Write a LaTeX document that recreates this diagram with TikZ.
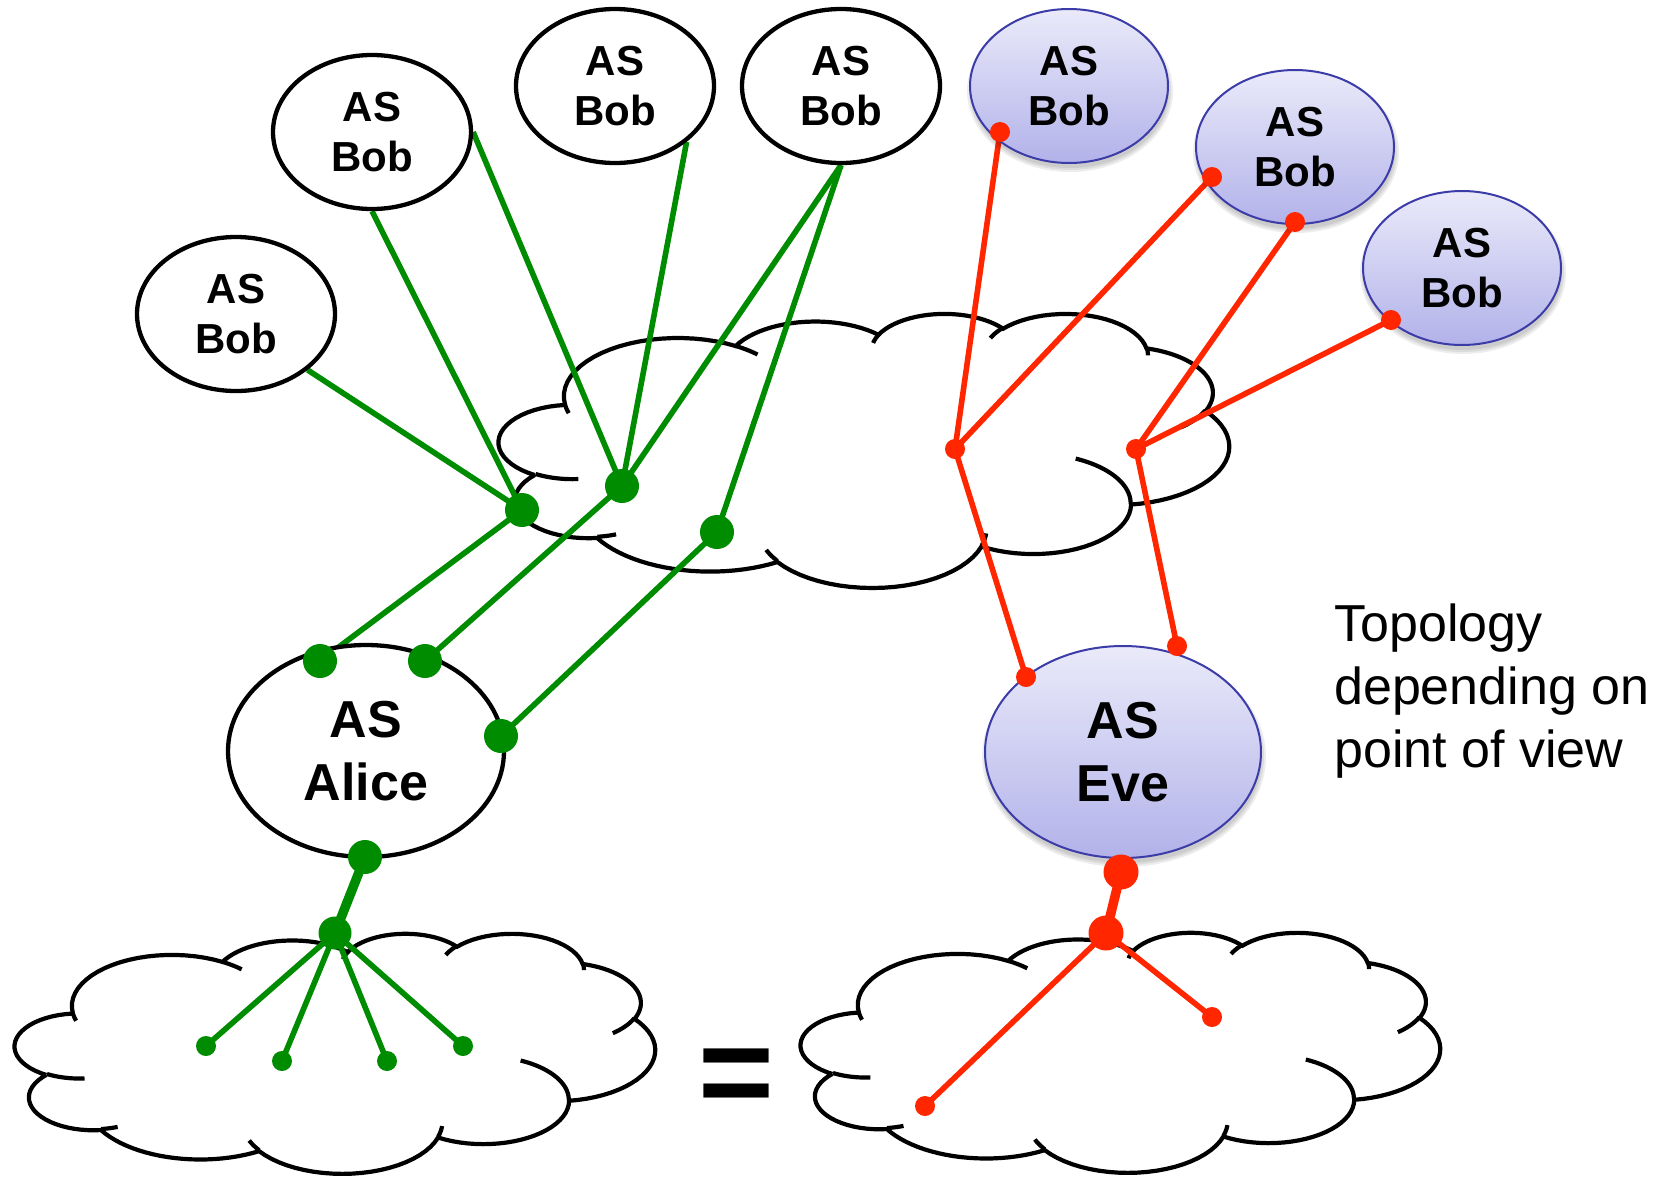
\documentclass[tikz,border=0pt]{standalone}
\usepackage{fontspec}
\setmainfont{Liberation Sans}
\usetikzlibrary{shapes.geometric}

\definecolor{netgreen}{RGB}{0,140,0}
\definecolor{netred}{RGB}{255,38,0}
\definecolor{evetop}{RGB}{234,234,250}
\definecolor{evebot}{RGB}{178,178,234}
\definecolor{eveline}{RGB}{60,60,168}

\pgfdeclarelayer{cloudlayer}
\pgfdeclarelayer{linklayer}
\pgfsetlayers{cloudlayer,linklayer,main}

% Cloud outline in a 432 x 432 frame, built from elliptic arcs whose
% start angle and sweep are polar (visual) angles, y pointing down.
\newcommand\cldreset{\gdef\cldP{}}
\newcommand\cldmove[2]{%
  \def\cpx{#1}\def\cpy{#2}%
  \xdef\cldP{\unexpanded\expandafter{\cldP} (#1,#2)}}
\newcommand\cldarc[4]{%
  \pgfmathsetmacro\cta{atan2(#1*sin(#3),#2*cos(#3))}%
  \pgfmathsetmacro\ctb{atan2(#1*sin(#3+#4),#2*cos(#3+#4))}%
  \pgfmathsetmacro\ctb{(\cta)+Mod((\ctb)-(\cta)+180,360)-180}%
  \pgfmathsetmacro\ccx{(\cpx)-#1*cos(\cta)}%
  \pgfmathsetmacro\ccy{(\cpy)-#2*sin(\cta)}%
  \xdef\cldP{\unexpanded\expandafter{\cldP} -- plot[domain=\cta:\ctb,samples=24,variable=\noexpand\t]({(\ccx)+#1*cos(\noexpand\t)},{(\ccy)+#2*sin(\noexpand\t)})}%
  \pgfmathsetmacro\cpx{(\ccx)+#1*cos(\ctb)}%
  \pgfmathsetmacro\cpy{(\ccy)+#2*sin(\ctb)}%
}

% outer outline
\cldreset
\cldmove{39.00}{143.70}
\cldarc{67.53}{91.90}{-190.48748}{123.78053}
\cldarc{53.33}{72.67}{-144.10238}{89.94523}
\cldarc{43.65}{59.45}{-145.80792}{99.72302}
\cldarc{48.57}{65.95}{-130.98607}{117.24173}
\cldarc{53.33}{72.73}{-78.70888}{109.02692}
\cldarc{67.75}{92.20}{-46.26725}{130.269}
\cldarc{57.85}{78.67}{0.62502}{114.03333}
\cldarc{67.52}{92.15}{22.4516}{115.17255}
\cldarc{77.20}{105.43}{66.24263}{75.71102}
\cldarc{43.60}{59.18}{-274.94208}{146.73557}
\cldarc{43.45}{59.45}{-246.8285}{152.51885}
\xdef\cldOuter{\unexpanded\expandafter{\cldP} -- cycle}

% inner strokes between the puffs
\cldreset
\cldmove{46.93}{261.77}\cldarc{43.45}{59.45}{86.742}{26.4295}
\cldmove{69.28}{348.99}\cldarc{43.60}{59.18}{73.61047}{11.44747}
\cldmove{164.78}{390.90}\cldarc{67.52}{92.15}{137.62415}{14.0811}
\cldmove{288.27}{347.51}\cldarc{67.52}{92.15}{6.45327}{15.99835}
\cldmove{341.29}{229.54}\cldarc{57.85}{78.67}{-70.29235}{70.91737}
\cldmove{417.98}{153.54}\cldarc{53.33}{72.73}{30.31803}{27.7515}
\cldmove{383.24}{54.26}\cldarc{48.57}{65.95}{-13.74433}{14.8589}
\cldmove{290.78}{39.52}\cldarc{48.57}{65.95}{-149.18145}{18.19537}
\cldmove{221.41}{47.20}\cldarc{43.65}{59.45}{-163.49427}{17.68635}
\cldmove{140.00}{51.92}\cldarc{67.53}{91.90}{-66.70695}{12.31935}
\cldmove{41.27}{157.89}\cldarc{67.53}{91.90}{157.65435}{11.85817}
\xdef\cldHooks{\unexpanded\expandafter{\cldP}}

\newcommand\drawcloud[4]{%
  \begin{scope}[shift={(#1,#2)},xscale=#3/432,yscale=#4/432]
    \draw[cloudline,fill=white] \cldOuter;
    \draw[cloudline] \cldHooks;
  \end{scope}}

\begin{document}
\begin{tikzpicture}[x=1pt,y=-1pt,
  cloudline/.style={draw=black,line width=4.2pt},
  asshape/.style={ellipse,inner sep=0pt,align=center,
    font={\fontsize{42}{50}\selectfont\bfseries},
    minimum width=198pt,minimum height=154pt},
  asnode/.style={asshape,draw=black,line width=4.3pt,fill=white},
  asblue/.style={asshape,draw=eveline,line width=2pt,top color=evetop,bottom color=evebot},
  bigsize/.style={minimum width=276pt,minimum height=212pt,
    font={\fontsize{52}{63}\selectfont\bfseries}},
  glink/.style={draw=netgreen,line width=5.6pt},
  gtrunk/.style={draw=netgreen,line width=9.5pt},
  rlink/.style={draw=netred,line width=5.6pt},
  rtrunk/.style={draw=netred,line width=9.5pt},
  gdot/.style={circle,fill=netgreen,inner sep=0pt,minimum size=34pt},
  gdotsm/.style={gdot,minimum size=20pt},
  rdot/.style={circle,fill=netred,inner sep=0pt,minimum size=20pt},
  rdotbig/.style={rdot,minimum size=35pt},
  softshadow/.style={fill=black,opacity=0.07}]

\begin{pgfonlayer}{cloudlayer}
  \fill[white] (0,0) rectangle (1668,1176);
  \drawcloud{499}{313}{730}{274}
  \drawcloud{15}{933}{640}{240}
  \drawcloud{801}{932}{639}{240}
\end{pgfonlayer}
\useasboundingbox (0,0) rectangle (1668,1176);

% soft shadows under the shaded ellipses
\foreach \cx/\cy/\rx/\ry in {1069/86/99/77,1295/147/99/77,1462/268/99/77,1123/752/138/106}{
  \foreach \g in {0,2,4}{
    \fill[softshadow] (\cx+1,\cy+5) ellipse [x radius=\rx pt+\g pt, y radius=\ry pt+\g pt];
  }
}

% autonomous systems
\node[asnode] (bob1) at (236,314) {AS\\Bob};
\node[asnode] (bob2) at (372,132) {AS\\Bob};
\node[asnode] (bob3) at (615,86) {AS\\Bob};
\node[asnode] (bob4) at (841,86) {AS\\Bob};
\node[asblue] (bob5) at (1069,86) {AS\\Bob};
\node[asblue] (bob6) at (1295,147) {AS\\Bob};
\node[asblue] (bob7) at (1462,268) {AS\\Bob};
\node[asnode,bigsize] (alice) at (366,751) {AS\\Alice};
\node[asblue,bigsize] (eve) at (1123,752) {AS\\Eve};

% green routers
\node[gdot] (g1) at (522,510) {};
\node[gdot] (g2) at (622,486) {};
\node[gdot] (g3) at (717,532) {};
\node[gdot] (a1) at (320,661) {};
\node[gdot] (a2) at (425,661) {};
\node[gdot] (a3) at (501,736) {};
\node[gdot] (a4) at (365,857) {};
\node[gdot,minimum size=33pt] (gj) at (335,933) {};
\node[gdotsm] (l1) at (206,1046) {};
\node[gdotsm] (l2) at (282,1061) {};
\node[gdotsm] (l3) at (387,1061) {};
\node[gdotsm] (l4) at (463,1046) {};

% red routers
\node[rdot] (rb5) at (1000,132) {};
\node[rdot] (rb6a) at (1212,177) {};
\node[rdot] (rb6b) at (1295,222) {};
\node[rdot] (rb7) at (1391,320) {};
\node[rdot] (r1) at (955,449) {};
\node[rdot] (r2) at (1136,449) {};
\node[rdot] (e1) at (1026,677) {};
\node[rdot] (e2) at (1177,646) {};
\node[rdotbig] (e3) at (1121,872) {};
\node[rdotbig] (rj) at (1106,933) {};
\node[rdot] (rl1) at (925,1106) {};
\node[rdot] (rl2) at (1212,1017) {};

\begin{pgfonlayer}{linklayer}
  \draw[glink] (bob1.322) -- (g1.center);
  \draw[glink] (bob2.south) -- (g1.center);
  \draw[glink] (bob2.east) -- (g2.center);
  \draw[glink] (bob3.322) -- (g2.center);
  \draw[glink] (bob4.south) -- (g2.center);
  \draw[glink] (bob4.south) -- (g3.center);
  \draw[glink] (g1.center) -- (a1.center);
  \draw[glink] (g2.center) -- (a2.center);
  \draw[glink] (g3.center) -- (a3.center);
  \draw[gtrunk] (a4.center) -- (gj.center);
  \draw[glink] (gj.center) -- (l1.center);
  \draw[glink] (gj.center) -- (l2.center);
  \draw[glink] (gj.center) -- (l3.center);
  \draw[glink] (gj.center) -- (l4.center);

  \draw[rlink] (rb5.center) -- (r1.center);
  \draw[rlink] (rb6a.center) -- (r1.center);
  \draw[rlink] (rb6b.center) -- (r2.center);
  \draw[rlink] (rb7.center) -- (r2.center);
  \draw[rlink] (r1.center) -- (e1.center);
  \draw[rlink] (r2.center) -- (e2.center);
  \draw[rtrunk] (e3.center) -- (rj.center);
  \draw[rlink] (rj.center) -- (rl1.center);
  \draw[rlink] (rj.center) -- (rl2.center);
\end{pgfonlayer}

\node[anchor=base,inner sep=0pt,font={\fontsize{130}{130}\selectfont\bfseries}] (eq) at (736,1116) {=};

\node[anchor=north west,align=left,inner sep=0pt,font={\fontsize{52}{63}\selectfont}] (caption) at (1334,604)
  {Topology\\depending on\\point of view};

\end{tikzpicture}
\end{document}
